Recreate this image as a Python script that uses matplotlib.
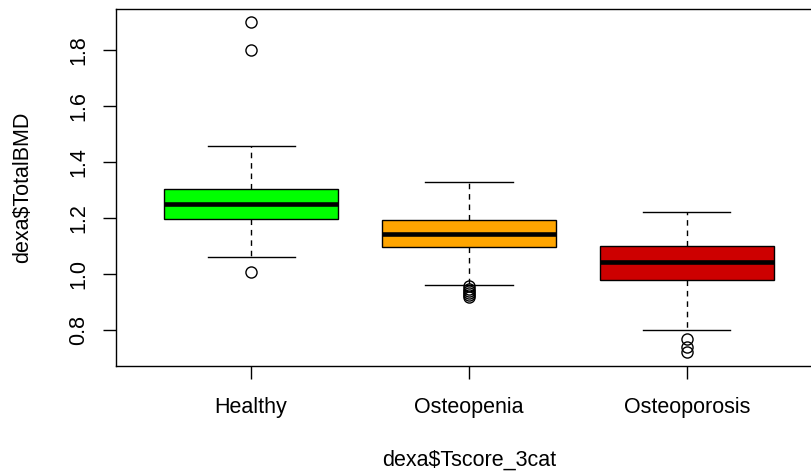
import matplotlib
matplotlib.use("Agg")
import matplotlib.pyplot as plt

plt.rcParams['font.family'] = ['Liberation Sans', 'DejaVu Sans']

# Summary statistics of total BMD by T-score category
categories = ["Healthy", "Osteopenia", "Osteoporosis"]
whisker_low = [1.061, 0.962, 0.800]
quartile_1 = [1.197, 1.099, 0.981]
medians = [1.252, 1.144, 1.044]
quartile_3 = [1.306, 1.193, 1.102]
whisker_high = [1.457, 1.330, 1.222]
outliers = [
    [1.900, 1.800, 1.010],
    [0.957, 0.948, 0.940, 0.932, 0.925, 0.918],
    [0.770, 0.740, 0.722],
]
box_colors = ["#00FF00", "#FFA500", "#CD0000"]
y_ticks = [0.8, 1.0, 1.2, 1.4, 1.6, 1.8]

W, H = 812, 474
fig = plt.figure(figsize=(W / 100, H / 100), dpi=100)
left, right, top, bottom = 116, 822, 9, 366
ax = fig.add_axes([left / W, (H - bottom) / H, (right - left) / W, (bottom - top) / H])

stats = []
for i, name in enumerate(categories):
    stats.append(dict(label=name, whislo=whisker_low[i], q1=quartile_1[i], med=medians[i],
                      q3=quartile_3[i], whishi=whisker_high[i], fliers=outliers[i]))

lw = 1.0
parts = ax.bxp(
    stats, positions=[1, 2, 3], widths=0.8, capwidths=0.4, patch_artist=True,
    boxprops=dict(linewidth=lw, edgecolor="black"),
    medianprops=dict(linewidth=3.3, color="black", solid_capstyle="butt"),
    whiskerprops=dict(linewidth=lw, color="black", linestyle=(0, (4, 3.5))),
    capprops=dict(linewidth=lw, color="black"),
    flierprops=dict(marker="o", markersize=8, markerfacecolor="none",
                    markeredgecolor="black", markeredgewidth=lw),
)
for patch, c in zip(parts["boxes"], box_colors):
    patch.set_facecolor(c)

ax.set_xlim(0.38, 3.62)
ax.set_ylim(0.673, 1.947)

fs = 15.5
ax.set_yticks(y_ticks)
ax.set_yticklabels([f"{v:.1f}" for v in y_ticks], rotation=90, va="center", fontsize=fs)
ax.set_xticks([1, 2, 3])
ax.set_xticklabels(categories, fontsize=fs)
ax.tick_params(axis="y", length=9.3, width=lw, pad=10, direction="out")
ax.tick_params(axis="x", length=9.3, width=lw, pad=13, direction="out")
for s in ax.spines.values():
    s.set_linewidth(lw)

fig.text(469 / W, 1 - 466 / H, "dexa$Tscore_3cat", ha="center", va="baseline", fontsize=fs)
fig.text(28 / W, 1 - 187.5 / H, "dexa$TotalBMD", ha="center", va="baseline",
         rotation=90, rotation_mode="anchor", fontsize=fs)

fig.savefig("out.png", dpi=100)
